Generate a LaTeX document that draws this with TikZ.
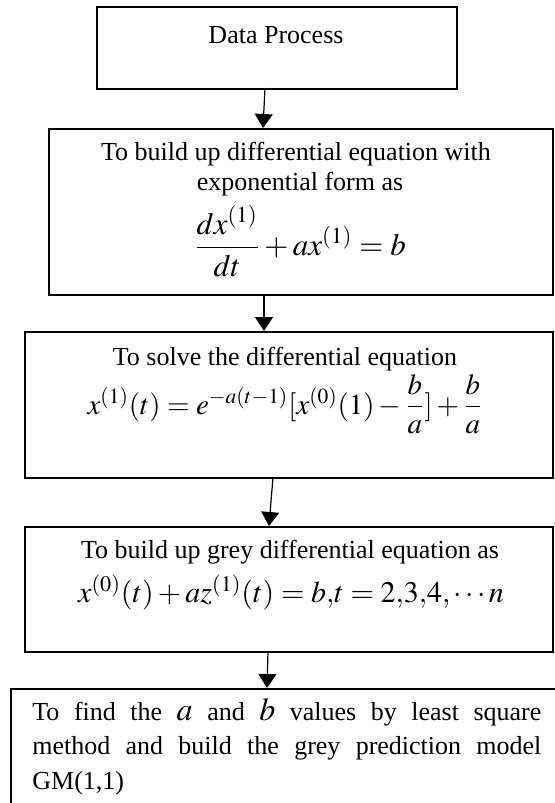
\documentclass[tikz,border=0pt]{standalone}
\usepackage{amsmath}
\usepackage{mathptmx}
\usepackage[no-math]{fontspec}
\setmainfont{Liberation Serif}
\usetikzlibrary{arrows.meta}
\setlength{\parindent}{0pt}

\begin{document}
\begin{tikzpicture}[x=0.5pt,y=-0.5pt,
		box/.style={draw, line width=0.9pt, anchor=north west, inner sep=0pt},
		txt/.style={font=\fontsize{13}{15}\selectfont, inner sep=0pt, anchor=base},
		eqn/.style={font=\fontsize{15.5}{18}\selectfont, inner sep=0pt, anchor=base},
		flow/.style={-{Triangle[width=9pt,length=7pt]}, line width=0.6pt}]
		\def\fillw{254.5pt}
		\def\mv#1{{\fontsize{16}{17}\selectfont$#1$}}
		\useasboundingbox (0,0) rectangle (554,803);
		
		% boxes
		\node[box, line width=1.1pt, minimum width=180pt, minimum height=41pt] (process) at (96,6) {};
		\node[box, minimum width=252pt, minimum height=83pt] (build) at (48,128) {};
		\node[box, minimum width=264pt, minimum height=73pt] (solve) at (24,331) {};
		\node[box, minimum width=264pt, minimum height=62.5pt] (grey) at (24,526) {};
		\node[box, minimum width=280pt, minimum height=81pt] (model) at (10,688) {};
		
		% texts in the boxes
		\node[txt] (process-t) at (276,43) {Data Process};
		\node[txt] (build-t1) at (296,160) {To build up differential equation with};
		\node[txt] (build-t2) at (300,190) {exponential form as};
		\node[eqn] (build-eq) at (300,255) {$\dfrac{dx^{(1)}}{dt}+ax^{(1)}=b$};
		\node[txt] (solve-t) at (285,365) {To solve the differential equation};
		\node[eqn, font=\fontsize{14.5}{17}\selectfont] (solve-eq) at (285,414) {$x^{(1)}(t)=e^{-a(t-1)}[x^{(0)}(1)-\dfrac{b}{a}]+\dfrac{b}{a}$};
		\node[txt] (grey-t) at (290,558) {To build up grey differential equation as};
		\node[eqn, font=\fontsize{15}{17}\selectfont] (grey-eq) at (291,602) {$x^{(0)}(t)+az^{(1)}(t)=b{,}t=2{,}3{,}4{,}\cdots n$};
		\node[txt, anchor=base west] (model-t1) at (32,720) {\makebox[\fillw][s]{To find the \mv{a} and \mv{b} values by least square}};
		\node[txt, anchor=base west] (model-t2) at (32,754) {\makebox[\fillw][s]{method and build the grey prediction model}};
		\node[txt, anchor=base west] (model-t3) at (32,789) {GM(1,1)};
		
		% arrows between the boxes
		\coordinate (a1) at (265,88);  \coordinate (b1) at (263,128);
		\coordinate (a2) at (264,294); \coordinate (b2) at (264,331);
		\coordinate (a3) at (273,477); \coordinate (b3) at (269,526);
		\coordinate (a4) at (268,651); \coordinate (b4) at (267,688);
		\draw[flow] (a1) -- (b1);
		\draw[flow] (a2) -- (b2);
		\draw[flow] (a3) -- (b3);
		\draw[flow] (a4) -- (b4);
	\end{tikzpicture}
\end{document}
